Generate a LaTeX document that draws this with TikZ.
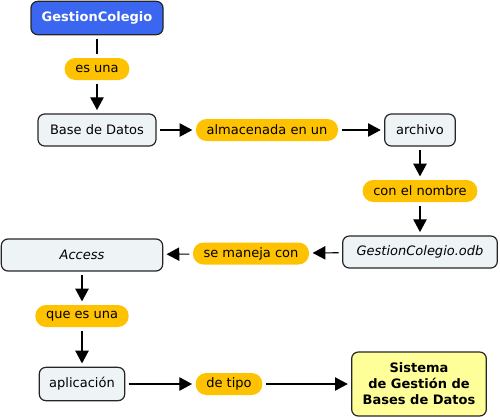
\documentclass[tikz,border=0pt]{standalone}
\usepackage{fontspec}
\setmainfont{DejaVu Sans}
\usetikzlibrary{arrows.meta}
\definecolor{conceptFill}{RGB}{238,243,245}
\definecolor{linkFill}{RGB}{255,194,0}
\definecolor{topFill}{RGB}{58,102,240}
\definecolor{goalFill}{RGB}{255,255,153}
\tikzset{
	concept/.style={rectangle, rounded corners=5pt, draw=black!85, line width=0.9pt, fill=conceptFill, minimum height=24pt, inner xsep=7.5pt, font=\fontsize{9.75}{12}\selectfont},
	linkword/.style={rectangle, rounded corners=8pt, fill=linkFill, minimum height=16.5pt, inner xsep=8pt, inner ysep=2pt, font=\fontsize{9.75}{12}\selectfont},
	connector/.style={line width=0.8pt, shorten >=2.5pt, shorten <=2.5pt},
	arrowed/.style={connector, -{Triangle[length=9.5pt,width=10pt]}}
}
\begin{document}
\begin{tikzpicture}[x=0.75pt,y=-0.75pt]
	\useasboundingbox (0,0) rectangle (500,419);

	\node[concept, fill=topFill, text=white, font=\fontsize{9.75}{12}\selectfont\bfseries, minimum width=99pt, minimum height=25pt](gestionBox) at (97,18){GestionColegio};
	\node[linkword](esUnaLink) at (97,69){es una};
	\node[concept, minimum width=88.5pt](baseBox) at (97,130){Base de Datos};
	\node[linkword](almacenadaLink) at (267,130){almacenada en un};
	\node[concept, minimum width=53pt](archivoBox) at (420,130){archivo};
	\node[linkword](nombreLink) at (420,191){con el nombre};
	\node[concept, minimum width=116pt, font=\fontsize{9.75}{12}\selectfont\itshape](odbBox) at (420,252){GestionColegio.odb};
	\node[linkword](manejaLink) at (251,253.5){se maneja con};
	\node[concept, minimum width=121pt, font=\fontsize{9.75}{12}\selectfont\itshape](accessBox) at (82,255){Access};
	\node[linkword](queEsLink) at (82,316){que es una};
	\node[concept, minimum width=64pt, minimum height=25pt](aplicacionBox) at (82,384){aplicación};
	\node[linkword](tipoLink) at (229,384){de tipo};
	\node[concept, fill=goalFill, align=center, minimum width=101pt, minimum height=48pt, font=\fontsize{9.75}{12}\selectfont\bfseries](sistemaBox) at (419,384){Sistema\\de Gestión de\\Bases de Datos};

	\draw[connector] (gestionBox) -- (esUnaLink);
	\draw[arrowed] (esUnaLink) -- (baseBox);
	\draw[arrowed] (baseBox) -- (almacenadaLink);
	\draw[arrowed] (almacenadaLink) -- (archivoBox);
	\draw[arrowed] (archivoBox) -- (nombreLink);
	\draw[arrowed] (nombreLink) -- (odbBox);
	\draw[arrowed] (odbBox) -- (manejaLink);
	\draw[arrowed] (manejaLink) -- (accessBox);
	\draw[arrowed] (accessBox) -- (queEsLink);
	\draw[arrowed] (queEsLink) -- (aplicacionBox);
	\draw[arrowed] (aplicacionBox) -- (tipoLink);
	\draw[arrowed] (tipoLink) -- (sistemaBox);
\end{tikzpicture}
\end{document}
